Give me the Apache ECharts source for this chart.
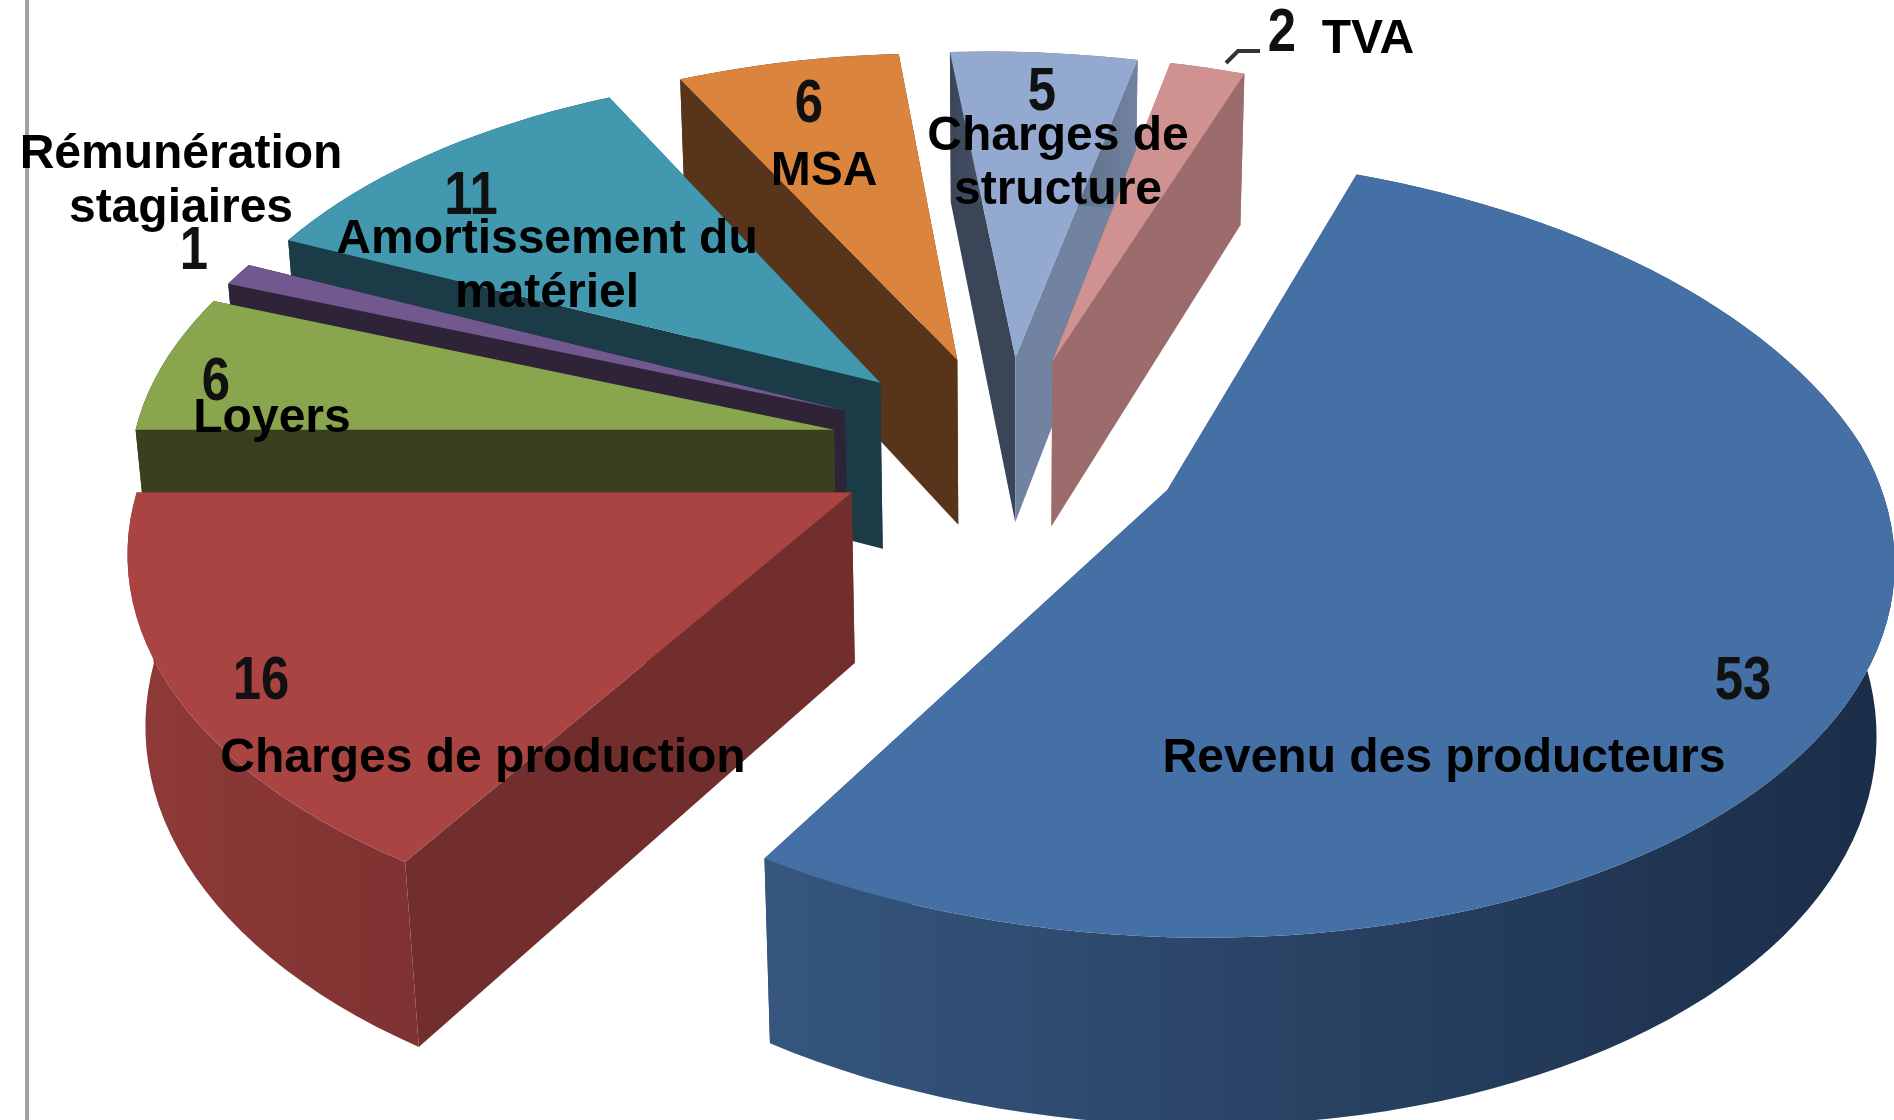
<!DOCTYPE html>
<html>
<head>
<meta charset="utf-8">
<title>Répartition du prix</title>
<script src="https://cdn.jsdelivr.net/npm/echarts@6/dist/echarts.min.js"></script>
<style>
  html, body { margin: 0; padding: 0; background: #fff; }
  #chart { width: 1894px; height: 1120px; }
</style>
</head>
<body>
<div id="chart"></div>
<script>
  // data, clockwise from the first slice
  var categories = ["Revenu des producteurs", "Charges de production", "Loyers", "Rémunération\nstagiaires",
    "Amortissement du\nmatériel", "MSA", "Charges de\nstructure", "TVA"];
  var values = [53, 16, 6, 1, 11, 6, 5, 2];

  // slice colours: top face, left/right cut walls, rim wall gradient
  var topColors = ["#4470a5", "#a94442", "#89a54e", "#71588f", "#4198af", "#db843d", "#93a9cf", "#d09291"];
  var wallColors = ["#2a4468", "#722e2d", "#3a401f", "#2e2337", "#1b3b47", "#58351a", "#3a4658", "#9c6c6c"];
  var endWallColors = ["#2a4468", "#722e2d", "#3a401f", "#2e2337", "#1b3b47", "#58351a", "#7183a0", "#9c6c6c"];
  var rimColors = [["#36567f", "#1a2d47"], ["#8f3a38", "#7e3231"], ["#3a401f", "#3a401f"], ["#2e2337", "#2e2337"],
    ["#1b3b47", "#1b3b47"], ["#58351a", "#58351a"], ["#3a4658", "#7183a0"], ["#9c6c6c", "#9c6c6c"]];

  // back to front
  var paintOrder = [5, 6, 7, 4, 3, 2, 1, 0];

  // pie model
  var startAngle = 21.6;
  var centerX = 1007;
  var centerY = 447;
  var radiusX = 703;
  var radiusY = 372;
  var depth = 172;
  var explode = 0.25;
  var perspective = 0.14;
  var depthScale = 0.02;
  var backSkew = 0.045;
  var frontSkew = 0.015;

  // label anchors
  var namePos = [[1444, 759], [483, 759], [272, 419], [181, 182], [547, 267], [824, 172], [1058, 164], [1368, 40]];
  var valuePos = [[1743, 682], [261, 682], [216, 383], [194, 252], [471, 197], [809, 105], [1042, 93], [1282, 34]];

  function project(x, y, z) {
    var w = 1 - perspective * y + depthScale * z;
    var sx = x + (y < 0 ? backSkew : frontSkew) * y;
    return [centerX + radiusX * sx / w, centerY + (radiusY * y + depth * z) / w];
  }

  // angle in degrees clockwise from 12 o'clock
  function dir(a) {
    var r = a * Math.PI / 180;
    return [Math.sin(r), -Math.cos(r)];
  }

  function sliceAngles(index) {
    var total = values.reduce(function (s, v) { return s + v; }, 0);
    var before = values.slice(0, index).reduce(function (s, v) { return s + v; }, 0);
    return [startAngle + before / total * 360, startAngle + (before + values[index]) / total * 360];
  }

  function renderSlice(params, api) {
    var index = api.value(0);
    var angles = sliceAngles(index);
    var mid = dir((angles[0] + angles[1]) / 2);
    var ox = mid[0] * explode;
    var oy = mid[1] * explode;

    var steps = Math.max(2, Math.ceil((angles[1] - angles[0]) / 2));
    var rimTop = [];
    var rimBottom = [];
    for (var i = 0; i <= steps; i++) {
      var d = dir(angles[0] + (angles[1] - angles[0]) * i / steps);
      rimTop.push(project(ox + d[0], oy + d[1], 0));
      rimBottom.push(project(ox + d[0], oy + d[1], 1));
    }
    var apexTop = project(ox, oy, 0);
    var apexBottom = project(ox, oy, 1);
    var last = rimTop.length - 1;

    return {
      type: "group",
      children: [
        {
          type: "polygon",
          shape: { points: [apexTop, rimTop[0], rimBottom[0], apexBottom] },
          style: { fill: wallColors[index] }
        },
        {
          type: "polygon",
          shape: { points: [apexTop, rimTop[last], rimBottom[last], apexBottom] },
          style: { fill: endWallColors[index] }
        },
        {
          type: "polygon",
          shape: { points: rimTop.concat(rimBottom.slice().reverse()) },
          style: {
            fill: new echarts.graphic.LinearGradient(0, 0, 1, 0, [
              { offset: 0, color: rimColors[index][0] },
              { offset: 1, color: rimColors[index][1] }
            ])
          }
        },
        {
          type: "polygon",
          shape: { points: [apexTop].concat(rimTop) },
          style: { fill: topColors[index] }
        }
      ]
    };
  }

  function textItem(text, pos, font, color, scaleX) {
    return {
      type: "text",
      z: 10,
      x: pos[0],
      y: pos[1],
      scaleX: scaleX,
      style: {
        text: text,
        font: font,
        fill: color,
        align: "center",
        verticalAlign: "middle",
        lineHeight: 54
      }
    };
  }

  var labels = [];
  categories.forEach(function (name, i) {
    labels.push(textItem(name, namePos[i], "bold 48px 'Liberation Sans', Arial, sans-serif", "#000", 1));
    labels.push(textItem(String(values[i]), valuePos[i], "bold 62px 'Liberation Sans', Arial, sans-serif", "#111", 0.82));
  });

  var chart = echarts.init(document.getElementById("chart"), null, { renderer: "canvas" });
  chart.setOption({
    animation: false,
    backgroundColor: "#fff",
    graphic: [
      {
        type: "rect",
        shape: { x: 25, y: 0, width: 4, height: 1120 },
        style: { fill: "#a0a0a0" }
      },
      {
        type: "polyline",
        z: 9,
        shape: { points: [[1226, 63], [1238, 51], [1260, 51]] },
        style: { stroke: "#333", lineWidth: 4, fill: null }
      }
    ].concat(labels),
    series: [
      {
        type: "custom",
        coordinateSystem: "none",
        renderItem: renderSlice,
        data: paintOrder.map(function (i) { return [i, values[i]]; }),
        silent: true
      }
    ]
  });
</script>
</body>
</html>
